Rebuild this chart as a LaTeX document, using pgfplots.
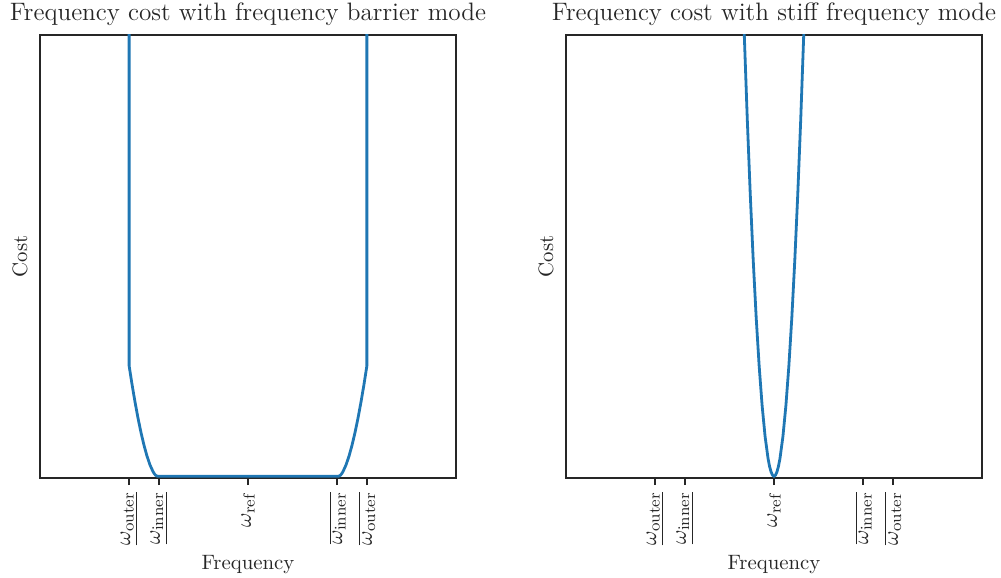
\documentclass[border=0pt]{standalone}
\usepackage{pgfplots}
\pgfplotsset{compat=1.18}
\definecolor{mplblue}{HTML}{1F77B4}
\definecolor{axgray}{HTML}{262626}
\begin{document}
\begin{tikzpicture}
\pgfplotsset{
  every axis title/.style={at={(0.5,1)}, anchor=base, yshift=7pt, font=\fontsize{12.6}{14}\selectfont, text=axgray},
  myax/.style={
    width=208pt, height=221.5pt, scale only axis,
    xmin=-7, xmax=7, ymin=-0.004, ymax=1,
    axis line style={axgray, line width=0.7pt},
    ytick=\empty,
    xtick={-4,-3,0,3,4},
    xticklabels={$\underline{\omega_{\mathrm{outer}}}$,$\underline{\omega_{\mathrm{inner}}}$,$\omega_{\mathrm{ref}}$,$\overline{\omega_{\mathrm{inner}}}$,$\overline{\omega_{\mathrm{outer}}}$},
    xticklabel style={rotate=90, anchor=east, font=\fontsize{11.2}{13}\selectfont, text=axgray},
    tick align=outside, xtick pos=bottom,
    major tick length=3.5pt,
    tick style={axgray, line width=0.7pt},
    xlabel={Frequency}, ylabel={Cost},
    label style={font=\fontsize{10.4}{12}\selectfont, text=axgray},
    xlabel style={at={(axis description cs:0.5,0)}, anchor=base, yshift=-45.5pt},
    ylabel style={at={(axis description cs:-0.03125,0.5)}, anchor=base},
    clip=true,
  }
}
\begin{axis}[myax, name=left, at={(0,0)}, anchor=south west,
  title={Frequency cost with frequency barrier mode}]
\addplot[mplblue, line width=1.4pt] coordinates {
(-4,2) (-4,0.25) (-3.9,0.2069) (-3.8,0.1673) (-3.7,0.1311) (-3.6,0.0987) (-3.5,0.0702)
(-3.4,0.0458) (-3.3,0.0259) (-3.2,0.0109) (-3.15,0.0054) (-3.1,0.0017) (-3.05,0)
(3.05,0) (3.1,0.0017) (3.15,0.0054) (3.2,0.0109) (3.3,0.0259) (3.4,0.0458) (3.5,0.0702)
(3.6,0.0987) (3.7,0.1311) (3.8,0.1673) (3.9,0.2069) (4,0.25) (4,2)
};
\end{axis}
\begin{axis}[myax, name=right, at={(263pt,0)}, anchor=south west,
  title={Frequency cost with stiff frequency mode}]
\addplot[mplblue, line width=1.4pt] coordinates {
(-1.1,1.21) (-1.0,1.0) (-0.9,0.81) (-0.8,0.64) (-0.7,0.49) (-0.6,0.36) (-0.5,0.25)
(-0.4,0.16) (-0.3,0.09) (-0.2,0.04) (-0.15,0.0225) (-0.1,0.01) (-0.05,0.0025) (0,0)
(0.05,0.0025) (0.1,0.01) (0.15,0.0225) (0.2,0.04) (0.3,0.09) (0.4,0.16) (0.5,0.25)
(0.6,0.36) (0.7,0.49) (0.8,0.64) (0.9,0.81) (1.0,1.0) (1.1,1.21)
};
\end{axis}
\pgfresetboundingbox
\path[use as bounding box] (-20pt,-50pt) rectangle (480.5pt,239pt);
\end{tikzpicture}
\end{document}
